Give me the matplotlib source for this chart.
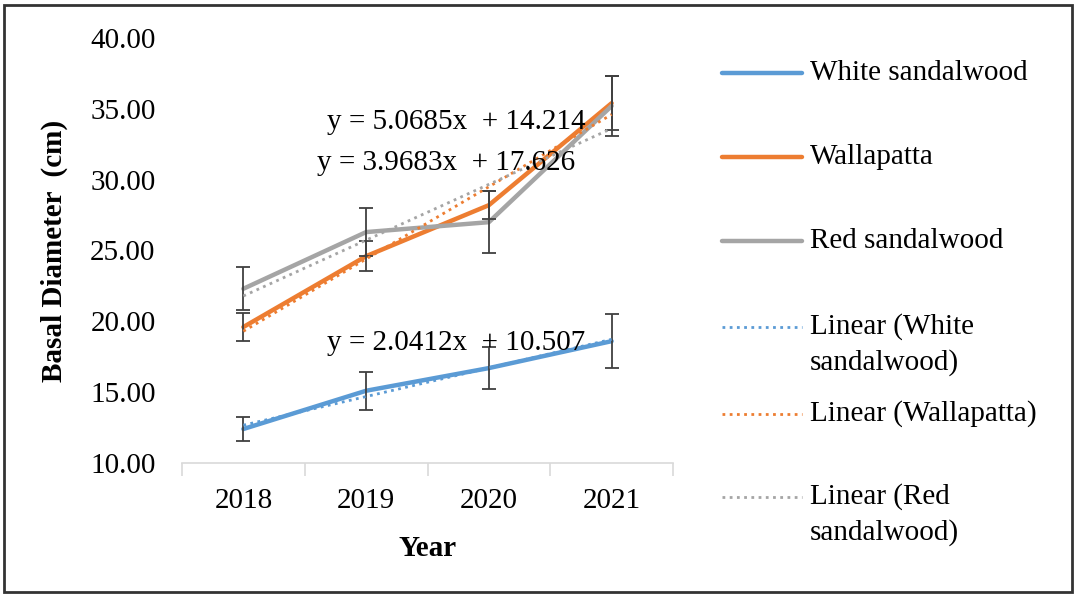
import numpy as np
import matplotlib.pyplot as plt
from matplotlib.lines import Line2D
from matplotlib.patches import Rectangle

plt.rcParams['font.family'] = ['Liberation Serif', 'DejaVu Serif']

# Data
years = ['2018', '2019', '2020', '2021']
species = ['White sandalwood', 'Wallapatta', 'Red sandalwood']
white = [12.4, 15.1, 16.7, 18.6]
wallapatta = [19.6, 24.6, 28.2, 35.4]
red = [22.3, 26.3, 27.0, 35.2]
white_err = [0.85, 1.35, 1.5, 1.9]
wallapatta_err = [1.0, 1.05, 1.0, 1.9]
red_err = [1.5, 1.7, 2.2, 2.1]
colors = ['#5B9BD5', '#ED7D31', '#A5A5A5']
equations = ['y = 2.0412x  + 10.507', 'y = 5.0685x  + 14.214', 'y = 3.9683x  + 17.626']

W, H = 1079, 596
fig = plt.figure(figsize=(W / 100, H / 100), dpi=100)
ax = fig.add_axes([182 / W, 1 - 463 / H, (673 - 182) / W, 425 / H])

x = np.arange(len(years))
series = [white, wallapatta, red]
errs = [white_err, wallapatta_err, red_err]

# data lines
for vals, c in zip(series, colors):
    ax.plot(x, vals, color=c, lw=3.2, solid_capstyle='round', zorder=3)
# error bars
for vals, e in zip(series, errs):
    ax.errorbar(x, vals, yerr=e, fmt='none', ecolor='#404040',
                elinewidth=1.3, capsize=5, capthick=1.3, zorder=4)
# linear trendlines
for vals, c in zip(series, colors):
    k, b = np.polyfit(x + 1, vals, 1)
    ax.plot(x, k * (x + 1) + b, color=c, lw=2, linestyle=(0, (1, 1.6)), zorder=5)

# equation labels
ax.text(0.68, 18.5, equations[0], fontsize=21, va='center', ha='left', zorder=6)
ax.text(0.68, 34.1, equations[1], fontsize=21, va='center', ha='left', zorder=6)
ax.text(0.60, 31.2, equations[2], fontsize=21, va='center', ha='left', zorder=6)

ax.set_xlim(-0.5, 3.5)
ax.set_ylim(10, 40)
ax.set_yticks(np.arange(10, 41, 5))
ax.set_yticklabels([f'{v:.2f}' for v in np.arange(10, 41, 5)])
ax.set_xticks(x)
ax.set_xticklabels(years)
ax.set_xticks(np.arange(-0.5, 4, 1), minor=True)
ax.tick_params(axis='x', which='major', length=0, labelsize=21, pad=18)
ax.tick_params(axis='x', which='minor', length=9, width=1.2, color='#d9d9d9')
ax.tick_params(axis='y', length=0, labelsize=21, pad=19)
for s in ['top', 'right', 'left']:
    ax.spines[s].set_visible(False)
ax.spines['bottom'].set_color('#d9d9d9')
ax.spines['bottom'].set_linewidth(1.2)

ax.set_xlabel('Year', fontsize=21, fontweight='bold', labelpad=15)
ax.set_ylabel('Basal Diameter  (cm)', fontsize=21, fontweight='bold', labelpad=16)

# legend drawn at the right side
labels = species + ['Linear (White\nsandalwood)', 'Linear (Wallapatta)', 'Linear (Red\nsandalwood)']
rows_y = [73, 157, 241, 327, 414, 497]
styles = ['-'] * 3 + [(0, (1, 1.6))] * 3
widths = [3.2] * 3 + [2] * 3
for i, (lab, yy) in enumerate(zip(labels, rows_y)):
    c = colors[i % 3]
    fy = 1 - yy / H
    fig.add_artist(Line2D([722 / W, 802 / W], [fy, fy], color=c, lw=widths[i],
                          linestyle=styles[i], solid_capstyle='round',
                          transform=fig.transFigure))
    for j, part in enumerate(lab.split('\n')):
        fig.text(810 / W, 1 - (yy + 36 * j) / H, part, fontsize=21, va='center', ha='left')

# outer frame
fig.add_artist(Rectangle((4 / W, 1 - 592 / H), (1072 - 4) / W, (592 - 5) / H,
                         transform=fig.transFigure, fill=False, edgecolor='#333333', lw=2))

fig.savefig('out.png', dpi=100)
